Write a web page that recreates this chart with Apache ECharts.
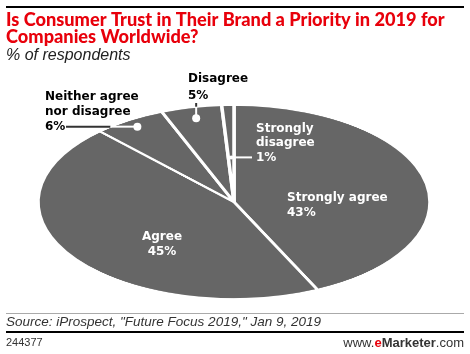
<!DOCTYPE html>
<html><head><meta charset="utf-8">
<script src="https://cdn.jsdelivr.net/npm/echarts@6/dist/echarts.min.js"></script>
<style>
html,body{margin:0;padding:0;background:#fff;}
#wrap{position:relative;width:470px;height:354px;overflow:hidden;}
#pie{position:absolute;left:0;width:470px;height:400px;transform-origin:0 0;}
#main{position:absolute;left:0;top:0;width:470px;height:354px;}
</style></head>
<body><div id="wrap"><div id="pie"></div><div id="main"></div></div>
<script>
// ---- data ----
const categories = ['Strongly agree', 'Agree', 'Neither agree nor disagree', 'Disagree', 'Strongly disagree'];
const values = [43, 45, 6, 5, 1];
const labelLines = [['Strongly agree', '43%'], ['Agree', '45%'], ['Neither agree', 'nor disagree', '6%'], ['Disagree', '5%'], ['Strongly', 'disagree', '1%']];
const titleLines = ['Is Consumer Trust in Their Brand a Priority in 2019 for', 'Companies Worldwide?'];
const subtitle = '% of respondents';
const source = 'Source: iProspect, "Future Focus 2019," Jan 9, 2019';
const chartId = '244377';

// ---- layout ----
const CX = 234, CY = 202, RX = 196, RY = 97;
const pieDivH = 400;
const sy = RY / RX;
const pieEl = document.getElementById('pie');
pieEl.style.top = (CY - (pieDivH / 2) * sy) + 'px';
pieEl.style.transform = 'scaleY(' + sy + ')';

const pie = echarts.init(pieEl, null, {renderer: 'canvas'});
pie.setOption({
  animation: false,
  series: [{
    type: 'pie',
    center: [CX, pieDivH / 2],
    radius: [0, RX],
    startAngle: 90,
    clockwise: true,
    label: {show: false},
    labelLine: {show: false},
    itemStyle: {color: '#666666', borderColor: '#ffffff', borderWidth: 3.5},
    emphasis: {disabled: true},
    data: categories.map((c, i) => ({name: c, value: values[i]}))
  }]
});

// mid-angle positions on the ellipse from data
const total = values.reduce((a, b) => a + b, 0);
function midPoint(i, f) {
  let cum = 0;
  for (let k = 0; k < i; k++) cum += values[k];
  const a = (cum + values[i] / 2) / total * 2 * Math.PI; // clockwise from top
  return [CX + RX * f * Math.sin(a), CY - RY * f * Math.cos(a)];
}
function edgeX(y, side) {
  const t = (y - CY) / RY;
  return CX + side * RX * Math.sqrt(Math.max(0, 1 - t * t));
}

const TFONT = 'Lato, "Noto Sans", sans-serif';
const LFONT = '"DejaVu Sans", Lato, sans-serif';
const HFONT = '"Liberation Sans", Arial, sans-serif';
const g = [];
function txt(x, y, s, opt) {
  g.push(Object.assign({type: 'text', z: 10, style: Object.assign({x: x, y: y, text: s, font: 'bold 12px ' + LFONT, fill: '#000', verticalAlign: 'middle', align: 'left'}, opt || {})}));
}
function line(x1, y1, x2, y2, color, w) {
  g.push({type: 'line', z: 5, shape: {x1, y1, x2, y2}, style: {stroke: color, lineWidth: w}});
}
function dot(p, r) {
  g.push({type: 'circle', z: 6, shape: {cx: p[0], cy: p[1], r: r}, style: {fill: '#fff'}});
}

// frame lines
line(6, 7, 464, 7, '#000', 2);
line(6, 313.5, 464, 313.5, '#aaaaaa', 1);
line(6, 332, 464, 332, '#000', 2);

// title
txt(6, 20, titleLines[0], {font: '900 18.2px ' + TFONT, fill: '#e8000b'});
txt(6, 37, titleLines[1], {font: '900 18.2px ' + TFONT, fill: '#e8000b'});
txt(6, 56, subtitle, {font: 'italic 16px ' + HFONT, fill: '#222'});

// footer
txt(6, 322, source, {font: 'italic 13.5px ' + HFONT, fill: '#333'});
txt(6, 343, chartId, {font: '11px ' + HFONT, fill: '#333'});
g.push({type: 'text', z: 10, style: {x: 464, y: 343, align: 'right', verticalAlign: 'middle',
  text: '{a|www.}{e|e}{b|Marketer}{a|.com}',
  rich: {a: {font: '13px ' + HFONT, fill: '#333'},
         e: {font: 'bold 13px ' + HFONT, fill: '#e8000b'},
         b: {font: 'bold 13px ' + HFONT, fill: '#333'}}}});

// inside labels
const LH = 15;
// Strongly agree
txt(287, 198, labelLines[0][0], {fill: '#fff'});
txt(287, 198 + LH, labelLines[0][1], {fill: '#fff'});
// Agree
txt(162, 237, labelLines[1][0], {fill: '#fff', align: 'center'});
txt(162, 237 + LH, labelLines[1][1], {fill: '#fff', align: 'center'});

// Neither: outside label with leader
const pN = midPoint(2, 0.92);
txt(45, pN[1] - 2 * LH, labelLines[2][0]);
txt(45, pN[1] - LH, labelLines[2][1]);
txt(45, pN[1], labelLines[2][2]);
const ex = edgeX(pN[1], -1);
line(66, pN[1], ex, pN[1], '#333', 2);
line(ex, pN[1], pN[0], pN[1], '#fff', 2);
dot(pN, 4);

// Disagree
const pD = midPoint(3, 0.885);
txt(188, 79, labelLines[3][0]);
txt(188, 79 + LH + 2, labelLines[3][1]);
const eyD = CY - RY * Math.sqrt(Math.max(0, 1 - Math.pow((pD[0] - CX) / RX, 2)));
line(pD[0], 103, pD[0], eyD, '#333', 2);
line(pD[0], eyD, pD[0], pD[1], '#fff', 2);
dot(pD, 4);

// Strongly disagree
const pS = midPoint(4, 0.46);
txt(256, pS[1] - 2 * LH + 1, labelLines[4][0], {fill: '#fff'});
txt(256, pS[1] - LH, labelLines[4][1], {fill: '#fff'});
txt(256, pS[1], labelLines[4][2], {fill: '#fff'});
line(pS[0], pS[1], 252, pS[1], '#fff', 2);
dot(pS, 2);

const main = echarts.init(document.getElementById('main'), null, {renderer: 'canvas'});
main.setOption({animation: false, backgroundColor: 'transparent', graphic: g});
</script></body></html>
